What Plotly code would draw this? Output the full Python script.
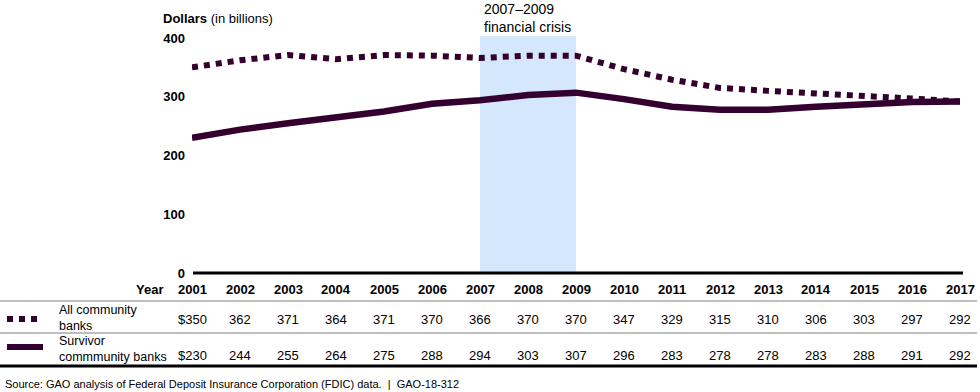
import plotly.graph_objects as go

years = list(range(2001, 2018))
all_banks = [350, 362, 371, 364, 371, 370, 366, 370, 370, 347, 329, 315, 310, 306, 303, 297, 292]
survivor_banks = [230, 244, 255, 264, 275, 288, 294, 303, 307, 296, 283, 278, 278, 283, 288, 291, 292]
y_ticks = [0, 100, 200, 300, 400]
crisis_start, crisis_end = 2007, 2009
series_names = ["All community<br>banks", "Survivor<br>commmunity banks"]

COLOR = "#33002f"
FONT = "Liberation Sans, Arial, sans-serif"

# pixel helpers for the plot frame (plot area x 192..960, y 38..273)
L, R, T, B = 192, 960, 38, 273
def px(x):
    return (x - L) / (R - L)
def py(y):
    return (B - y) / (B - T)

fig = go.Figure()
fig.add_trace(go.Scatter(x=years, y=all_banks, mode="lines",
                         line=dict(color=COLOR, width=6, dash="dot"),
                         hoverinfo="skip", showlegend=False))
fig.add_trace(go.Scatter(x=years, y=survivor_banks, mode="lines",
                         line=dict(color=COLOR, width=6.5),
                         hoverinfo="skip", showlegend=False))

shapes = [
    dict(type="rect", xref="x", yref="paper", x0=crisis_start, x1=crisis_end,
         y0=0, y1=py(36), fillcolor="#d5e8fb", line=dict(width=0), layer="below"),
    dict(type="line", xref="paper", yref="paper", x0=px(193), x1=px(963),
         y0=0, y1=0, line=dict(color="black", width=3)),
    dict(type="line", xref="paper", yref="paper", x0=px(0), x1=px(977),
         y0=py(301), y1=py(301), line=dict(color="#7f7f7f", width=1)),
    dict(type="line", xref="paper", yref="paper", x0=px(0), x1=px(977),
         y0=py(333), y1=py(333), line=dict(color="#7f7f7f", width=1)),
    dict(type="line", xref="paper", yref="paper", x0=px(0), x1=px(977),
         y0=py(366), y1=py(366), line=dict(color="black", width=3)),
    dict(type="line", xref="paper", yref="paper", x0=px(7), x1=px(43),
         y0=py(319), y1=py(319), line=dict(color=COLOR, width=6, dash="dot")),
    dict(type="line", xref="paper", yref="paper", x0=px(7), x1=px(43),
         y0=py(347), y1=py(347), line=dict(color=COLOR, width=6)),
]

ann = []
def add(text, x, y, xref="paper", xanchor="center", size=13, align="left"):
    ann.append(dict(text=text, x=x, y=y, xref=xref, yref="paper",
                    xanchor=xanchor, yanchor="middle", showarrow=False,
                    align=align, font=dict(family=FONT, size=size, color="black")))

add("<b>Dollars</b> (in billions)", px(161), py(18), xanchor="left", size=13)
add("2007–2009<br>financial crisis", px(482), py(18), xanchor="left", size=14)
add("<b>Year</b>", px(165), py(289), xanchor="right")
for i, yr in enumerate(years):
    add(f"<b>{yr}</b>", yr, py(289), xref="x")
    add(("$" if i == 0 else "") + str(all_banks[i]), yr, py(319), xref="x")
    add(("$" if i == 0 else "") + str(survivor_banks[i]), yr, py(355), xref="x")
add(series_names[0], px(57), py(318), xanchor="left", size=12.5)
add(series_names[1], px(57), py(349), xanchor="left", size=12.5)
add("Source: GAO analysis of Federal Deposit Insurance Corporation (FDIC) data.  |  GAO-18-312",
    px(3), py(384), xanchor="left", size=11)

fig.update_layout(
    width=980, height=392,
    margin=dict(l=L, r=980 - R, t=T, b=392 - B),
    plot_bgcolor="white", paper_bgcolor="white",
    xaxis=dict(range=[2001, 2017], showgrid=False, zeroline=False, showline=False,
               showticklabels=False, ticks="", fixedrange=True),
    yaxis=dict(range=[0, 400], tickvals=y_ticks, showgrid=False, zeroline=False,
               showline=False, ticks="", ticklabelstandoff=6,
               tickfont=dict(family=FONT, size=13, color="black", weight="bold")),
    shapes=shapes, annotations=ann,
    font=dict(family=FONT),
)
fig.write_html("out.html", config={"displayModeBar": False},
               post_script="document.body.style.margin='0';")
